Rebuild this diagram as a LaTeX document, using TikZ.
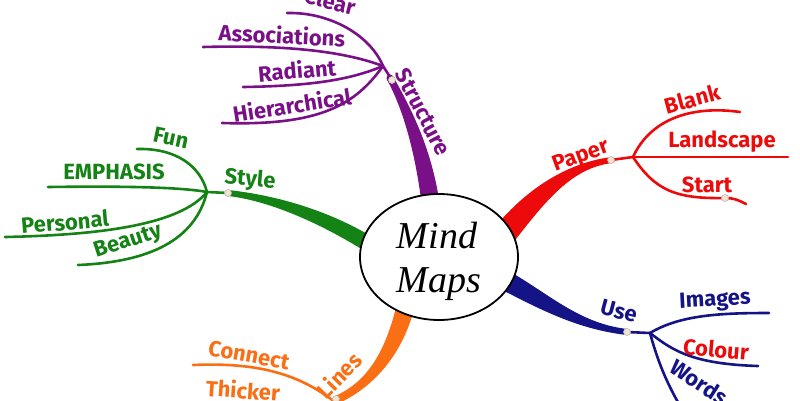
\documentclass[tikz,border=0pt]{standalone}
\usepackage{fontspec}
\setmainfont{Fira Sans}
\newfontfamily\mmserif{Liberation Serif}
\usetikzlibrary{calc,shapes.geometric}
\definecolor{cpurple}{RGB}{122,16,135}
\definecolor{cgreen}{RGB}{20,130,20}
\definecolor{cred}{RGB}{236,10,10}
\definecolor{cblue}{RGB}{20,20,135}
\definecolor{corange}{RGB}{250,110,20}
\definecolor{cdot}{RGB}{242,228,205}
\newcommand\taper[7]{%
 \path #1 coordinate (tp0) #2 coordinate (tc1) #3 coordinate (tc2) #4 coordinate (tp3);
 \path ($(tp0)!#5!90:(tc1)$) coordinate (tl0) ($(tp0)!#5!-90:(tc1)$) coordinate (tr0)
       ($(tp3)!#6!-90:(tc2)$) coordinate (tl3) ($(tp3)!#6!90:(tc2)$) coordinate (tr3);
 \fill[#7] (tl0) .. controls ($(tc1)+(tl0)-(tp0)$) and ($(tc2)+(tl3)-(tp3)$) .. (tl3) -- (tr3)
   .. controls ($(tc2)+(tr3)-(tp3)$) and ($(tc1)+(tr0)-(tp0)$) .. (tr0) -- cycle;
 \fill[#7] (tp0) circle (#5);
}
\tikzset{
 twig/.style={line width=2.6pt, line cap=round},
 lbl/.style={inner sep=0pt, font=\fontsize{22}{22}\selectfont\bfseries},
 dotst/.style={circle, inner sep=0pt, minimum size=7pt, fill=cdot, draw=gray!55, line width=0.6pt},
}
\begin{document}
\begin{tikzpicture}[x=1pt,y=-1pt]
\useasboundingbox[fill=white] (0,0) rectangle (800,400);
% thick branches
\taper{(390,78)}{(405,105)}{(425,150)}{(432,215)}{3.5pt}{9pt}{cpurple}
\taper{(228,193)}{(265,197)}{(320,213)}{(375,248)}{3pt}{8pt}{cgreen}
\taper{(612,160)}{(570,165)}{(535,195)}{(500,240)}{3pt}{12pt}{cred}
\taper{(627,332)}{(575,326)}{(540,298)}{(495,275)}{3pt}{10pt}{cblue}
\taper{(336,400)}{(368,386)}{(395,355)}{(407,300)}{4pt}{9pt}{corange}
% hubs
\coordinate (hs) at (383,66);
\coordinate (hst) at (207,192);
\coordinate (hp) at (633,157);
\coordinate (hu) at (650,333);
% structure twigs
\begin{scope}[cpurple]
\draw[twig] (hs) .. controls (370,35) and (330,12) .. (287,13);
\draw[twig] (203,47) .. controls (280,45) and (340,50) .. (hs);
\draw[twig] (243,87) .. controls (310,86) and (350,80) .. (hs);
\draw[twig] (222,123) .. controls (320,126) and (355,105) .. (hs);
\draw[twig] (hs) -- (392,80);
\end{scope}
\begin{scope}[cgreen]
\draw[twig] (137,149) .. controls (175,148) and (200,165) .. (hst);
\draw[twig] (48,187) .. controls (120,186) and (180,187) .. (hst);
\draw[twig] (5,237) .. controls (100,235) and (180,225) .. (hst);
\draw[twig] (78,265) .. controls (150,262) and (195,240) .. (hst);
\draw[twig] (hst) -- (228,193);
\end{scope}
\begin{scope}[cred]
\draw[twig] (hp) .. controls (650,120) and (690,105) .. (740,112);
\draw[twig] (hp) -- (788,157);
\draw[twig] (hp) .. controls (655,190) and (675,199) .. (725,198) .. controls (735,198) and (740,201) .. (746,204);
\draw[twig] (611,160) -- (hp);
\end{scope}
\begin{scope}[cblue]
\draw[twig] (hu) .. controls (680,315) and (720,313) .. (769,313);
\draw[twig] (hu) .. controls (672,350) and (692,364) .. (758,366);
\draw[twig] (hu) .. controls (656,355) and (664,378) .. (679,404);
\draw[twig] (627,332) -- (hu);
\end{scope}
\begin{scope}[corange]
\draw[twig] (193,365) .. controls (260,362) and (300,375) .. (335,402);
\end{scope}
% dots
\node[dotst] (d1) at (392,80) {};
\node[dotst] (d2) at (228,193) {};
\node[dotst] (d3) at (611,160) {};
\node[dotst] (d4) at (725,198) {};
\node[dotst] (d5) at (627,332) {};
\node[dotst] (d6) at (336,399) {};
% centre
\node[ellipse, draw=black, line width=1.8pt, fill=white, minimum width=158pt, minimum height=126pt] (c) at (439,257) {};
\node[anchor=base, inner sep=0pt, font=\mmserif\itshape\fontsize{38}{38}\selectfont] (t1) at (437,248) {Mind};
\node[anchor=base, inner sep=0pt, font=\mmserif\itshape\fontsize{38}{38}\selectfont] (t2) at (439,292) {Maps};
% labels
\begin{scope}[every node/.style={lbl}]
\node[cpurple, rotate=-14] (l1) at (330,1) {Clear};
\node[cpurple, rotate=-3] (l2) at (282,35) {Associations};
\node[cpurple, rotate=5] (l3) at (297,70) {Radiant};
\node[cpurple, rotate=9] (l4) at (292,105) {Hierarchical};
\node[cpurple, rotate=-62] (l5) at (423,112) {Structure};
\node[cgreen, rotate=-12] (l6) at (171,138) {Fun};
\node[cgreen] (l7) at (114,172) {EMPHASIS};
\node[cgreen, rotate=-5] (l8) at (250,180) {Style};
\node[cgreen, rotate=5] (l9) at (65,222) {Personal};
\node[cgreen, rotate=18] (l10) at (128,242) {Beauty};
\node[cred, rotate=20] (l11) at (581,157) {Paper};
\node[cred, rotate=15] (l12) at (692,99) {Blank};
\node[cred] (l13) at (722,142) {Landscape};
\node[cred] (l14) at (707,185) {Start};
\node[cblue, rotate=-15] (l15) at (619,311) {Use};
\node[cblue, rotate=3] (l16) at (715,301) {Images};
\node[cred, rotate=-5] (l17) at (716,349) {Colour};
\node[cblue, rotate=-33] (l18) at (699,382) {Words};
\node[corange, rotate=-10] (l19) at (249,355) {Connect};
\node[corange, rotate=-4] (l20) at (243,390) {Thicker};
\node[corange, rotate=46] (l21) at (339,375) {Lines};
\end{scope}
\end{tikzpicture}
\end{document}
